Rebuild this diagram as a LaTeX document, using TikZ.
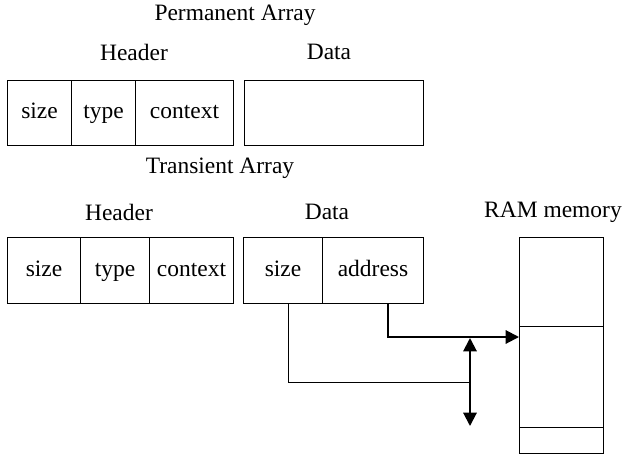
\documentclass[tikz,border=0pt]{standalone}
\usepackage{fontspec}
\setmainfont{Liberation Serif}
\usetikzlibrary{arrows.meta}
\tikzset{every picture/.style={line width=0.75pt}}
\tikzset{
  cell/.style={draw, rectangle, inner sep=0pt, anchor=north west, text height=1.05em, text depth=0.2em},
  lbl/.style={inner sep=0.75pt},
  wire/.style={line width=1.5pt},
  tip/.style={-{Triangle[length=10pt,width=10pt]}},
}

\begin{document}
\begin{tikzpicture}[x=0.75pt,y=0.75pt,yscale=-1,xscale=1,font=\fontsize{17.6}{20}\selectfont]
\useasboundingbox (0,0) rectangle (624,454);

% Permanent array
\node [cell, minimum width=64pt*0.75, minimum height=65pt*0.75] (pSize) at (7,80) {size};
\node [cell, minimum width=64pt*0.75, minimum height=65pt*0.75] (pType) at (71,80) {type};
\node [cell, minimum width=98pt*0.75, minimum height=65pt*0.75] (pCtx) at (135,80) {context};
\node [cell, minimum width=179pt*0.75, minimum height=65pt*0.75] (pData) at (244,80) {};

% Transient array
\node [cell, minimum width=73pt*0.75, minimum height=66pt*0.75] (tSize) at (7,237) {size};
\node [cell, minimum width=69pt*0.75, minimum height=66pt*0.75] (tType) at (80,237) {type};
\node [cell, minimum width=84pt*0.75, minimum height=66pt*0.75] (tCtx) at (149,237) {context};
\node [cell, minimum width=79pt*0.75, minimum height=66pt*0.75] (tDsize) at (243,237) {size};
\node [cell, minimum width=101pt*0.75, minimum height=66pt*0.75] (tAddr) at (322,237) {address};

% RAM memory
\node [cell, minimum width=84pt*0.75, minimum height=89pt*0.75] (ramTop) at (519,237) {};
\node [cell, minimum width=84pt*0.75, minimum height=101pt*0.75] (ramMid) at (519,326) {};
\node [cell, minimum width=84pt*0.75, minimum height=26pt*0.75] (ramBot) at (519,427) {};

% Text Node
\node [lbl] (permTitle) at (235,15) {Permanent Array};
\node [lbl] (pHead) at (134,52) {Header};
\node [lbl] (pDataLbl) at (329,52) {Data};
\node [lbl] (transTitle) at (220,168) {Transient Array};
\node [lbl] (tHead) at (119,212) {Header};
\node [lbl] (tDataLbl) at (327,212) {Data};
\node [lbl] (ramLbl) at (553,212) {RAM memory};

% wires
\coordinate (sizeOut) at (288,303);
\coordinate (addrOut) at (388,303);
\coordinate (ramIn) at (519,337);
\coordinate (busTop) at (470,338);
\coordinate (busBot) at (470,426);
\coordinate (busMid) at (470,382);

\draw (sizeOut) |- (busMid);
\draw [wire, tip] (addrOut) |- (ramIn);
\draw [wire, {Triangle[length=10pt,width=10pt]}-{Triangle[length=10pt,width=10pt]}] (busTop) -- (busBot);

\end{tikzpicture}
\end{document}
